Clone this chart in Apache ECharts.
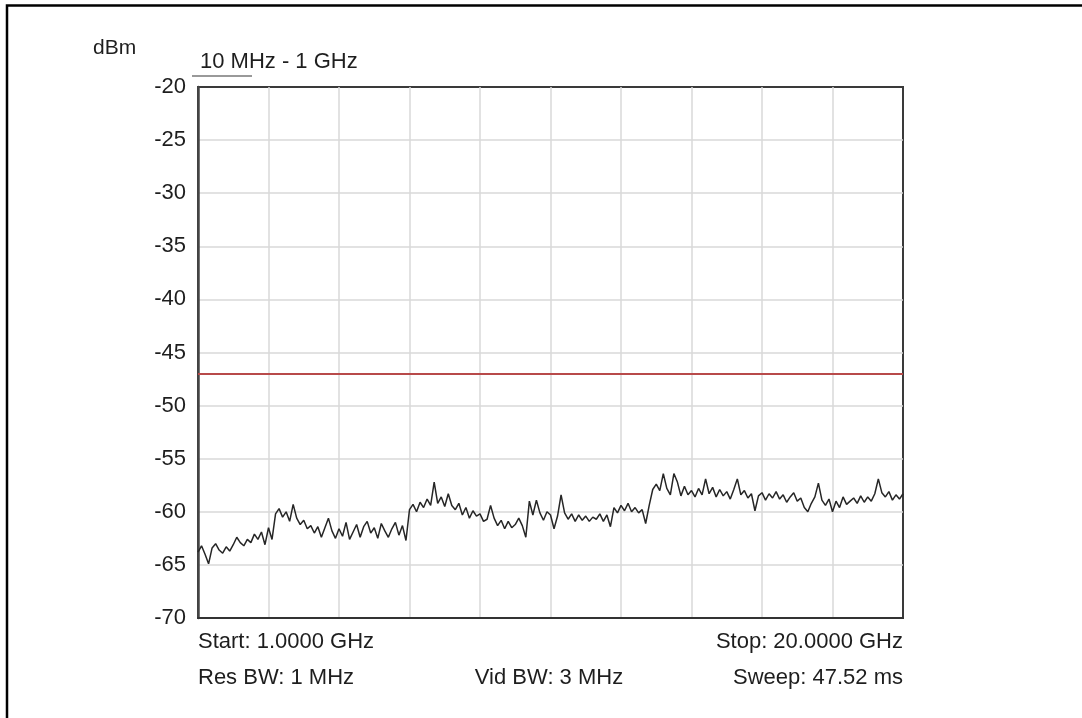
<!DOCTYPE html>
<html>
<head>
<meta charset="utf-8">
<script src="https://cdn.jsdelivr.net/npm/echarts@6/dist/echarts.min.js"></script>
<style>
html,body{margin:0;padding:0;background:#fff;}
#chart{width:1082px;height:718px;}
</style>
</head>
<body>
<div id="chart"></div>
<script>
// Sweep: 1 GHz to 20 GHz, 201 trace points (index 0..200), 10 divisions
const startLabel = 'Start: 1.0000 GHz';
const stopLabel = 'Stop: 20.0000 GHz';
const resBwLabel = 'Res BW: 1 MHz';
const vidBwLabel = 'Vid BW: 3 MHz';
const sweepLabel = 'Sweep: 47.52 ms';
const unitLabel = 'dBm';
const bandLabel = '10 MHz - 1 GHz';
const yTicks = [-70, -65, -60, -55, -50, -45, -40, -35, -30, -25, -20];
const limitLine = -47;
const trace = [
  -63.8, -63.2, -64.0, -64.9, -63.4, -63.0, -63.6, -63.9, -63.3, -63.7,
  -63.1, -62.4, -62.9, -63.2, -62.6, -62.9, -62.1, -62.6, -61.9, -63.1,
  -61.5, -62.6, -60.2, -59.7, -60.5, -60.0, -60.9, -59.3, -60.6, -61.2,
  -60.8, -61.6, -61.3, -62.0, -61.4, -62.4, -61.5, -60.6, -61.8, -62.5,
  -61.6, -62.3, -61.0, -62.6, -61.9, -61.2, -62.4, -61.4, -60.9, -62.0,
  -61.5, -62.5, -61.1, -61.8, -62.4, -61.6, -61.0, -62.2, -61.3, -62.7,
  -59.8, -59.3, -60.0, -59.1, -59.6, -58.8, -59.4, -57.2, -59.2, -58.6,
  -59.5, -58.3, -59.4, -59.8, -59.2, -60.3, -59.6, -60.6, -59.9, -60.4,
  -60.2, -60.9, -60.7, -59.4, -60.6, -61.3, -60.8, -61.6, -60.9, -61.5,
  -61.2, -60.6, -61.3, -62.4, -59.0, -60.3, -58.9, -60.1, -60.8, -60.0,
  -60.3, -61.6, -60.4, -58.4, -60.1, -60.7, -60.2, -60.9, -60.3, -60.8,
  -60.4, -60.9, -60.5, -60.7, -60.2, -60.9, -60.3, -61.4, -59.6, -60.1,
  -59.4, -59.9, -59.2, -60.0, -59.6, -60.1, -59.8, -61.1, -59.4, -57.9,
  -57.4, -58.0, -56.4, -57.8, -58.4, -56.4, -57.2, -58.5, -57.6, -58.4,
  -58.0, -58.6, -57.8, -58.4, -56.9, -58.3, -57.7, -58.6, -57.9, -58.5,
  -58.1, -58.8, -57.9, -56.9, -58.4, -58.0, -58.7, -58.3, -59.9, -58.5,
  -58.2, -58.9, -58.3, -58.7, -58.1, -58.8, -58.4, -59.1, -58.6, -58.2,
  -59.0, -58.7, -59.6, -60.0, -59.2, -58.6, -57.3, -58.9, -59.4, -58.8,
  -60.0, -59.0, -59.6, -58.6, -59.3, -59.0, -58.7, -59.2, -58.5, -59.1,
  -58.6, -59.0, -58.3, -56.9, -58.2, -58.6, -58.1, -58.9, -58.4, -58.8,
  -58.3
];

const seriesData = trace.map((v, i) => [i, v]);
const font = '"Liberation Sans", Arial, sans-serif';
const txtColor = '#1e1e1e';
const fs = 22;

const chart = echarts.init(document.getElementById('chart'), null, {renderer: 'canvas'});
chart.setOption({
  animation: false,
  backgroundColor: '#fff',
  grid: {
    left: 198, right: 179, top: 87, bottom: 100,
    show: true, borderColor: '#3a3a3a', borderWidth: 2, backgroundColor: 'transparent'
  },
  xAxis: {
    type: 'value', min: 0, max: trace.length - 1, interval: (trace.length - 1) / 10,
    axisLabel: {show: false}, axisTick: {show: false},
    axisLine: {show: true, lineStyle: {color: '#333', width: 2}},
    splitLine: {show: true, showMinLine: false, showMaxLine: false, lineStyle: {color: '#d8d8d8', width: 1.5}}
  },
  yAxis: {
    type: 'value', min: yTicks[0], max: yTicks[yTicks.length - 1], interval: 5,
    axisLabel: {show: true, color: txtColor, fontSize: fs, fontFamily: font, margin: 12},
    axisTick: {show: false},
    axisLine: {show: true, lineStyle: {color: '#444', width: 2.5}},
    splitLine: {show: true, showMinLine: false, showMaxLine: false, lineStyle: {color: '#d8d8d8', width: 1.5}}
  },
  series: [{
    type: 'line',
    data: seriesData,
    showSymbol: false,
    lineStyle: {color: '#262626', width: 1.5},
    markLine: {
      silent: true, symbol: 'none', label: {show: false},
      lineStyle: {color: '#b84a4a', width: 2, type: 'solid'},
      data: [{yAxis: limitLine}]
    }
  }],
  graphic: [
    {type: 'polyline', shape: {points: [[7, 718], [7, 5.5], [1082, 5.5]]}, style: {stroke: '#000', lineWidth: 2.5, fill: null}},
    {type: 'text', x: 93, y: 48, style: {text: unitLabel, font: '21px ' + font, fill: txtColor, textVerticalAlign: 'middle'}},
    {type: 'text', x: 200, y: 62, style: {text: bandLabel, font: fs + 'px ' + font, fill: txtColor, textVerticalAlign: 'middle'}},
    {type: 'line', shape: {x1: 192, y1: 76, x2: 252, y2: 76}, style: {stroke: '#777', lineWidth: 1.5}},
    {type: 'text', x: 198, y: 642, style: {text: startLabel, font: fs + 'px ' + font, fill: txtColor, textVerticalAlign: 'middle'}},
    {type: 'text', x: 903, y: 642, style: {text: stopLabel, font: fs + 'px ' + font, fill: txtColor, textAlign: 'right', textVerticalAlign: 'middle'}},
    {type: 'text', x: 198, y: 678, style: {text: resBwLabel, font: fs + 'px ' + font, fill: txtColor, textVerticalAlign: 'middle'}},
    {type: 'text', x: 549, y: 678, style: {text: vidBwLabel, font: fs + 'px ' + font, fill: txtColor, textAlign: 'center', textVerticalAlign: 'middle'}},
    {type: 'text', x: 903, y: 678, style: {text: sweepLabel, font: fs + 'px ' + font, fill: txtColor, textAlign: 'right', textVerticalAlign: 'middle'}}
  ]
});
</script>
</body>
</html>
